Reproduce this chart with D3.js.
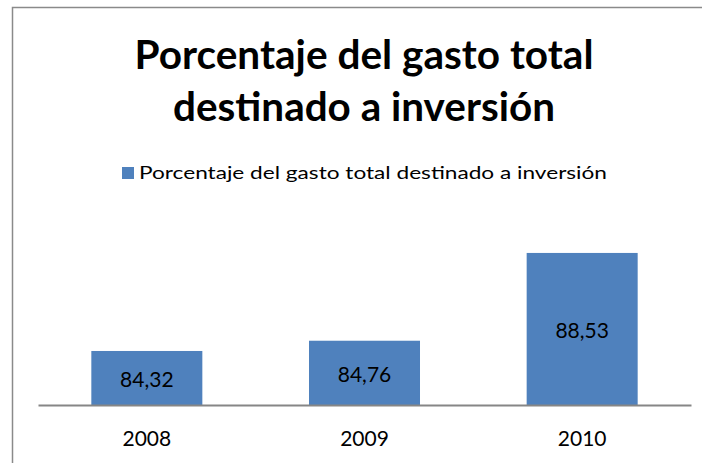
<!DOCTYPE html>
<html lang="es">
<head>
    <meta charset="utf-8">
    <script src="https://d3js.org/d3.v7.min.js"></script>
    <style>
        body { margin: 0; background: #fff; }
        svg { display: block; }
        text { font-family: Lato, "Open Sans", sans-serif; fill: #000; }
    </style>
</head>
<body>
    <svg></svg>
    <script>
        // chart data
        const years = ['2008', '2009', '2010']
        const values = [84.32, 84.76, 88.53]
        const titleLines = ['Porcentaje del gasto total', 'destinado a inversión']
        const seriesName = 'Porcentaje del gasto total destinado a inversión'

        const W = 702, H = 463
        const barColor = '#4f81bd'

        const svg = d3.select('svg')
            .attr('width', W)
            .attr('height', H)

        // chart frame (runs off the right and bottom edges)
        svg.append('rect')
            .attr('x', 12.5).attr('y', 7.5)
            .attr('width', 730).attr('height', 490)
            .attr('fill', 'none')
            .attr('stroke', '#8a8a8a')
            .attr('stroke-width', 1.5)

        // title
        const titleY = [69, 121]
        const titleLen = [459, 382]
        svg.selectAll('.title')
            .data(titleLines)
            .enter()
            .append('text')
            .attr('class', 'title')
            .attr('x', 364)
            .attr('y', (d, i) => titleY[i])
            .attr('text-anchor', 'middle')
            .attr('font-size', 40)
            .attr('font-weight', 700)
            .attr('textLength', (d, i) => titleLen[i])
            .attr('lengthAdjust', 'spacingAndGlyphs')
            .text(d => d)

        // legend
        svg.append('rect')
            .attr('x', 122).attr('y', 167)
            .attr('width', 12).attr('height', 12)
            .attr('fill', barColor)
        svg.append('text')
            .attr('x', 139)
            .attr('y', 179)
            .attr('font-size', 18)
            .attr('textLength', 468)
            .attr('lengthAdjust', 'spacingAndGlyphs')
            .text(seriesName)

        // scales
        const x = d3.scaleBand()
            .domain(years)
            .range([38, 691])
            .paddingInner(0.49)
            .paddingOuter(0.245)

        const y = d3.scaleLinear()
            .domain([82, 89])
            .range([405, 242])

        // bars
        const bars = svg.append('g')
            .selectAll('rect')
            .data(values)
            .enter()
            .append('rect')
            .attr('x', (d, i) => x(years[i]))
            .attr('y', d => y(d))
            .attr('width', x.bandwidth())
            .attr('height', d => y.range()[0] - y(d))
            .attr('fill', barColor)

        // value labels in the middle of each bar
        svg.append('g')
            .selectAll('text')
            .data(values)
            .enter()
            .append('text')
            .attr('x', (d, i) => x(years[i]) + x.bandwidth() / 2)
            .attr('y', d => (y(d) + y.range()[0]) / 2 + 9)
            .attr('text-anchor', 'middle')
            .attr('font-size', 21)
            .text(d => d3.format('.2f')(d).replace('.', ','))

        // x axis
        const xAxis = svg.append('g')
            .attr('transform', 'translate(0,405)')
            .call(d3.axisBottom(x).tickSize(0).tickPadding(0))
        xAxis.select('.domain')
            .attr('stroke', '#868686')
            .attr('stroke-width', 2)
        xAxis.selectAll('.tick text')
            .attr('dy', 0)
            .attr('y', 41)
            .attr('font-size', 21)
            .style('font-family', 'Lato, sans-serif')
            .attr('fill', '#000')
    </script>
</body>
</html>
